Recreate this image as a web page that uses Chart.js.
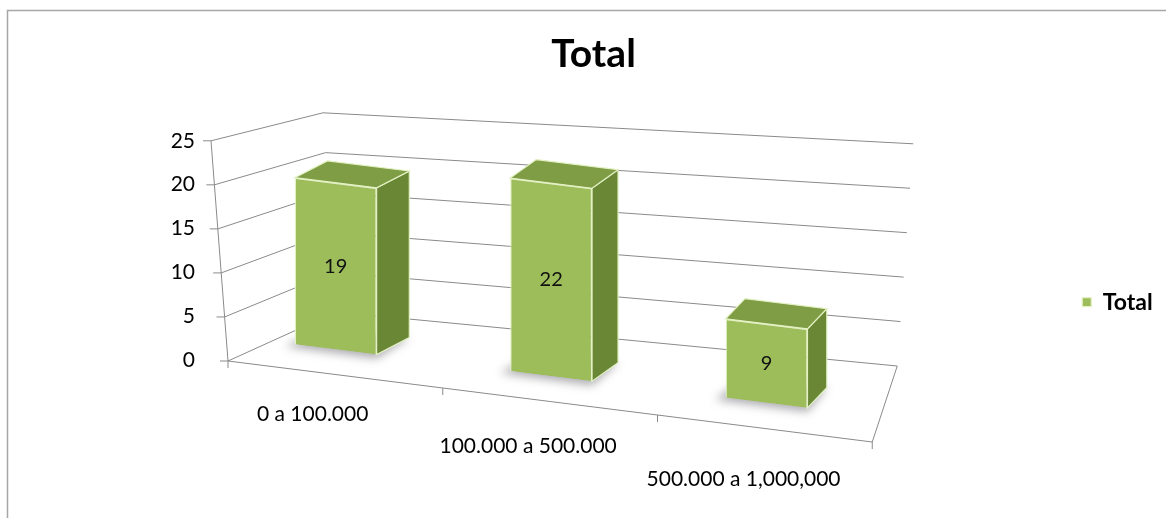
<!DOCTYPE html>
<html>
<head>
<meta charset="utf-8">
<title>Total</title>
<script src="https://cdn.jsdelivr.net/npm/chart.js@4/dist/chart.umd.min.js"></script>
<style>
  html, body { margin: 0; padding: 0; background: #fff; }
</style>
</head>
<body>
<canvas id="totalChart" width="1166" height="518"></canvas>
<script>
/* ---------- DATA ---------- */
const categories = ["0 a 100.000", "100.000 a 500.000", "500.000 a 1,000,000"];
const totals = [19, 22, 9];
const yTicks = [0, 5, 10, 15, 20, 25];
const seriesName = "Total";

// each label drops one line lower, like the tilted floor of the original
const staggered = categories.map((c, i) => Array(i + 1).fill("").concat(c));

/* ---------- LOOK ---------- */
const FONT = "Lato, 'Open Sans', sans-serif";
const GREEN = "#9dbd5b";
const GREEN_SIDE = "#6a8736";
const GREEN_TOP = "#7e9d45";
const EDGE = "#e3f1c3";
const LINE = "#8a8a8a";
const FLOOR_SLOPE = 0.124;   // how much the floor drops per px to the right
const SINK = -24;            // bars stand a bit behind the front edge

function lerp(a, b, t) {
  return [a[0] + (b[0] - a[0]) * t, a[1] + (b[1] - a[1]) * t];
}

// corners of the 3d box, built around the chart area
function boxCorners(a) {
  const L = a.left, R = a.right, T = a.top, B = a.bottom;
  return {
    flb: [L, B + 1], flt: [L - 17, T],
    blb: [L + 108, B - 48], blt: [L + 95, T - 28],
    frb: [R - 2, B + 82], frt: [R - 16, T + 50],
    brb: [R + 23, B + 6], brt: [R + 39, T + 3]
  };
}

// u: across, v: up, w: into the page (all 0..1)
function proj(c, u, v, w) {
  const bot = lerp(lerp(c.flb, c.frb, u), lerp(c.blb, c.brb, u), w);
  const top = lerp(lerp(c.flt, c.frt, u), lerp(c.blt, c.brt, u), w);
  return lerp(bot, top, v);
}

function polyline(ctx, pts) {
  ctx.beginPath();
  ctx.moveTo(pts[0][0], pts[0][1]);
  for (let i = 1; i < pts.length; i++) ctx.lineTo(pts[i][0], pts[i][1]);
  ctx.stroke();
}

function polygon(ctx, pts, fill, stroke) {
  ctx.beginPath();
  ctx.moveTo(pts[0][0], pts[0][1]);
  for (let i = 1; i < pts.length; i++) ctx.lineTo(pts[i][0], pts[i][1]);
  ctx.closePath();
  ctx.fillStyle = fill;
  ctx.fill();
  if (stroke) {
    ctx.strokeStyle = stroke;
    ctx.lineWidth = 1.2;
    ctx.stroke();
  }
}

// front face corners of a bar after the tilt, plus its depth offset
function barShape(chart, bar) {
  const a = chart.chartArea;
  const p = bar.getProps(["x", "y", "base", "width"], true);
  const tilt = (x, y) => [x, y + FLOOR_SLOPE * (x - a.left) + SINK];
  const l = p.x - p.width / 2, r = p.x + p.width / 2;
  const u = (p.x - a.left) / (a.right - a.left);
  const d = [36 - 20 * u, -16 - 5 * u];
  return {
    bl: tilt(l, p.base), br: tilt(r, p.base),
    tl: tilt(l, p.y), tr: tilt(r, p.y),
    back: q => [q[0] + d[0], q[1] + d[1]],
    mid: tilt(p.x, (p.y + p.base) / 2)
  };
}

const box3d = {
  id: "box3d",
  beforeDraw(chart) {
    const ctx = chart.ctx;
    ctx.save();
    ctx.strokeStyle = "#a6a6a6";
    ctx.lineWidth = 1.5;
    polyline(ctx, [[7.5, chart.height + 2], [7.5, 10.5], [chart.width + 2, 10.5]]);
    ctx.restore();
  },
  beforeDatasetsDraw(chart) {
    const ctx = chart.ctx, a = chart.chartArea;
    const ys = chart.scales.y, xs = chart.scales.x;
    const c = boxCorners(a);

    ctx.save();
    ctx.strokeStyle = LINE;
    ctx.lineWidth = 1;
    // walls and gridlines
    yTicks.forEach(t => {
      const v = (a.bottom - ys.getPixelForValue(t)) / (a.bottom - a.top);
      polyline(ctx, [proj(c, 0, v, 0), proj(c, 0, v, 1), proj(c, 1, v, 1)]);
      const f = proj(c, 0, v, 0);
      polyline(ctx, [[f[0] - 8, f[1]], f]);
    });
    // value axis and floor edges
    polyline(ctx, [proj(c, 0, 1, 0), proj(c, 0, 0, 0), proj(c, 1, 0, 0), proj(c, 1, 0, 1)]);
    // category tick marks
    for (let i = 0; i <= categories.length; i++) {
      const u = (xs.getPixelForValue(i - 0.5) - a.left) / (a.right - a.left);
      const f = proj(c, u, 0, 0);
      polyline(ctx, [f, [f[0], f[1] + 7]]);
    }

    // shadows, sides and tops of the bars
    chart.getDatasetMeta(0).data.forEach(bar => {
      const s = barShape(chart, bar);
      ctx.save();
      ctx.filter = "blur(5px)";
      polygon(ctx, [[s.bl[0] - 10, s.bl[1] + 2], [s.br[0], s.br[1] + 4],
                    s.back(s.br), s.back(s.bl)], "rgba(70,70,80,0.45)");
      ctx.restore();
      polygon(ctx, [s.tr, s.br, s.back(s.br), s.back(s.tr)], GREEN_SIDE, EDGE);
      polygon(ctx, [s.tl, s.tr, s.back(s.tr), s.back(s.tl)], GREEN_TOP, EDGE);
    });
    ctx.restore();

    // tilt the front faces Chart.js is about to draw
    ctx.save();
    ctx.transform(1, FLOOR_SLOPE, 0, 1, 0, SINK - FLOOR_SLOPE * a.left);
  },
  afterDatasetsDraw(chart) {
    const ctx = chart.ctx;
    ctx.restore();
    ctx.save();
    ctx.font = "20px " + FONT;
    ctx.fillStyle = "#111";
    ctx.textAlign = "center";
    ctx.textBaseline = "middle";
    chart.getDatasetMeta(0).data.forEach((bar, i) => {
      const s = barShape(chart, bar);
      ctx.fillText(String(totals[i]), s.mid[0], s.mid[1]);
    });
    ctx.restore();
  }
};

/* ---------- CHART ---------- */
new Chart(document.getElementById("totalChart"), {
  type: "bar",
  data: {
    labels: staggered,
    datasets: [{
      label: seriesName,
      data: totals,
      backgroundColor: GREEN,
      borderColor: EDGE,
      borderWidth: 1.2,
      barPercentage: 0.38,
      categoryPercentage: 1,
      clip: false
    }]
  },
  options: {
    responsive: false,
    devicePixelRatio: 1,
    animation: false,
    layout: { padding: { left: 32, right: 11, top: 0, bottom: 18 } },
    plugins: {
      title: {
        display: true,
        text: "Total",
        color: "#000",
        font: { family: FONT, size: 39, weight: "bold" },
        padding: { top: 31, bottom: 63 }
      },
      legend: {
        position: "right",
        align: "center",
        title: { display: true, text: "", padding: { top: 90, bottom: 0 } },
        labels: {
          boxWidth: 9,
          boxHeight: 9,
          padding: 208,
          color: "#000",
          font: { family: FONT, size: 23, weight: "bold" }
        }
      },
      tooltip: { enabled: false }
    },
    scales: {
      x: {
        grid: { display: false, drawTicks: false },
        border: { display: false },
        ticks: {
          color: "#000",
          font: { family: FONT, size: 21, lineHeight: "32.5px" },
          padding: 5,
          labelOffset: -23,
          maxRotation: 0,
          autoSkip: false
        }
      },
      y: {
        min: 0,
        max: 25,
        grid: { display: false, drawTicks: false },
        border: { display: false },
        ticks: {
          stepSize: 5,
          color: "#000",
          font: { family: FONT, size: 21 },
          padding: 33
        },
        afterFit(scale) { scale.width = 196; }
      }
    }
  },
  plugins: [box3d]
});
</script>
</body>
</html>
